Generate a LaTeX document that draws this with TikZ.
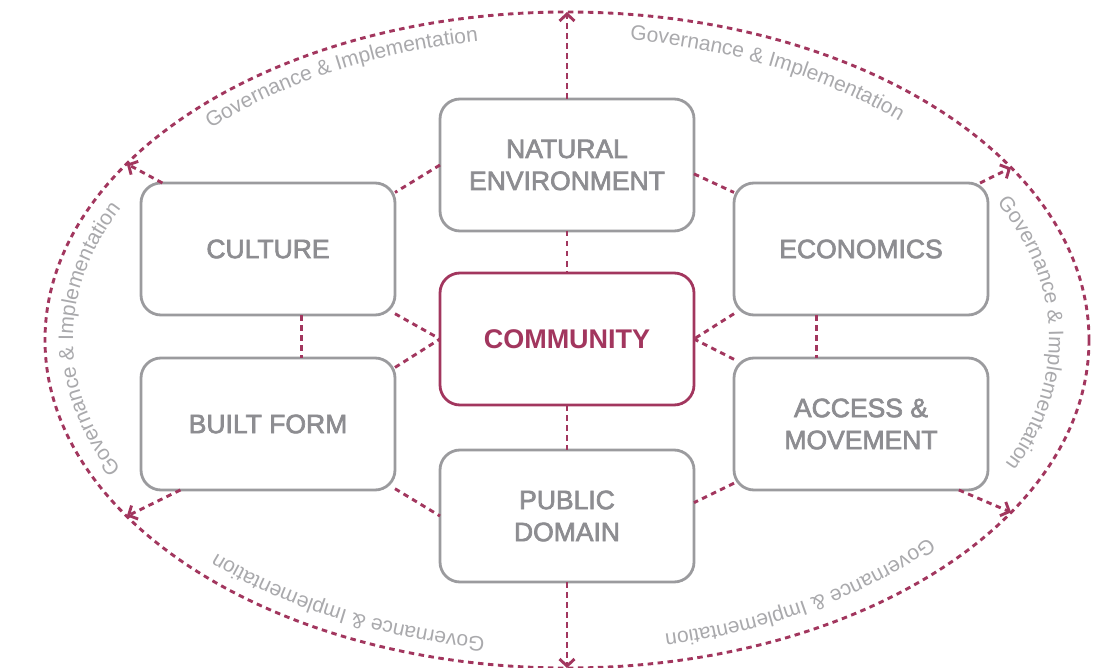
\documentclass[tikz,border=0pt]{standalone}
\usepackage{fontspec}
\setmainfont{Liberation Sans}
\newfontfamily\boxfont[FakeBold=2.6]{Liberation Sans}
\usetikzlibrary{arrows.meta,positioning,decorations.text}

\definecolor{berry}{HTML}{A2365E}
\definecolor{boxgray}{HTML}{9B9B9E}
\definecolor{labelgray}{HTML}{8D8D91}
\definecolor{govgray}{HTML}{A9A9AC}

\begin{document}
\begin{tikzpicture}[x=1pt,y=1pt,>={Straight Barb[length=7pt,width=15pt]},
  box/.style={draw=boxgray,line width=2.8pt,rounded corners=20pt,fill=white,
    minimum width=254pt,minimum height=132pt,outer sep=0pt,align=center,
    text=labelgray,font=\boxfont\fontsize{26.5}{32}\selectfont},
  core/.style={box,draw=berry,text=berry,font=\bfseries\fontsize{27}{32}\selectfont},
  link/.style={draw=berry,line width=2.9pt,dash pattern=on 5.5pt off 4.5pt},
  govtext/.style={decorate,decoration={text along path,text align=center,
    text color=govgray,
    text={|\fontsize{21}{25}\selectfont|Governance {\&} Implementation}}}]

  \useasboundingbox (0,0) rectangle (1110,-668);

  % outer ring
  \coordinate (mid) at (567,-340);
  \coordinate (tmid) at (561,-339);
  \draw[link] (mid) ellipse[x radius=522,y radius=328];

  % boxes
  \node[core] (com) at (567,-339) {COMMUNITY};
  \node[box] (nat) [above=42pt of com] {NATURAL\\ENVIRONMENT};
  \node[box] (pub) [below=45pt of com] {PUBLIC\\DOMAIN};
  \node[box] (cult) at (268,-249) {CULTURE};
  \node[box] (built) [below=43pt of cult] {BUILT FORM};
  \node[box] (econ) at (861,-249) {ECONOMICS};
  \node[box] (acc) [below=43pt of econ] {ACCESS \&\\MOVEMENT};

  % points on the ring
  \coordinate (gtop) at ([shift={(mid)}]90:522 and 328);
  \coordinate (gbot) at ([shift={(mid)}]270:522 and 328);
  \coordinate (gcult) at ([shift={(mid)}]147.5:522 and 328);
  \coordinate (gecon) at ([shift={(mid)}]31.7:522 and 328);
  \coordinate (gbuilt) at ([shift={(mid)}]212.5:522 and 328);
  \coordinate (gacc) at ([shift={(mid)}]-31.7:522 and 328);

  % links between boxes
  \draw[link] (nat.west) -- (cult.24);
  \draw[link] (nat.-4) -- (econ.156);
  \draw[link] (cult.-63) -- (built.63);
  \draw[link] (econ.236) -- (acc.124);
  \draw[link] (nat) -- (com);
  \draw[link] (com) -- (pub);
  \draw[link] (cult.-27) -- (com.west);
  \draw[link] (built.24) -- (com.west);
  \draw[link] (econ.207) -- (com.east);
  \draw[link] (acc.153) -- (com.east);
  \draw[link] (built.-27) -- (pub.west);
  \draw[link] (acc.205) -- (pub.6);

  % out to the ring
  \draw[link,->] (nat.north) -- (gtop);
  \draw[link,->] (pub.south) -- (gbot);
  \draw[link,->] (cult.148) -- (gcult);
  \draw[link,->] (econ.29) -- (gecon);
  \draw[link,->] (built.217) -- (gbuilt);
  \draw[link,->] (acc.-34) -- (gacc);

  % ring labels
  \path[govtext] ([shift={(tmid)}]161:488 and 302) arc[start angle=161,end angle=81,x radius=488,y radius=302];
  \path[govtext] ([shift={(tmid)}]101:488 and 302) arc[start angle=101,end angle=21,x radius=488,y radius=302];
  \path[govtext] ([shift={(tmid)}]41:488 and 302) arc[start angle=41,end angle=-39,x radius=488,y radius=302];
  \path[govtext] ([shift={(tmid)}]-16:488 and 302) arc[start angle=-16,end angle=-96,x radius=488,y radius=302];
  \path[govtext] ([shift={(tmid)}]280:488 and 302) arc[start angle=280,end angle=200,x radius=488,y radius=302];
  \path[govtext] ([shift={(tmid)}]220:488 and 302) arc[start angle=220,end angle=140,x radius=488,y radius=302];
\end{tikzpicture}
\end{document}
